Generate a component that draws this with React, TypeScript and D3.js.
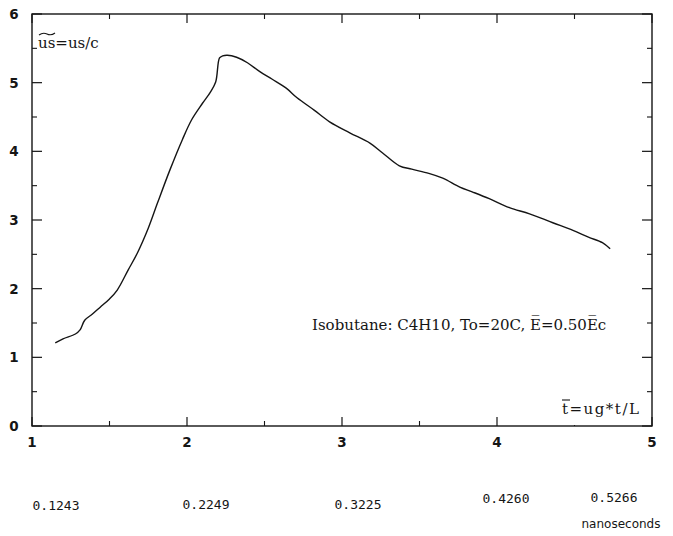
import React from "react";
import * as d3 from "d3";

// Reduced shock velocity vs reduced time
const tBar: number[] = [1.15, 1.2, 1.28, 1.31, 1.34, 1.39, 1.44, 1.5, 1.55, 1.62, 1.68, 1.75, 1.81, 1.89, 1.97, 2.03, 2.1, 2.15, 2.185, 2.21, 2.23, 2.26, 2.32, 2.39, 2.47, 2.55, 2.64, 2.71, 2.82, 2.92, 3.05, 3.18, 3.26, 3.37, 3.45, 3.56, 3.65, 3.76, 3.84, 3.95, 4.08, 4.21, 4.36, 4.49, 4.59, 4.68, 4.73];
const usBar: number[] = [1.21, 1.27, 1.34, 1.4, 1.54, 1.63, 1.73, 1.85, 1.98, 2.27, 2.52, 2.88, 3.25, 3.73, 4.17, 4.46, 4.7, 4.86, 5.01, 5.36, 5.39, 5.4, 5.37, 5.29, 5.16, 5.05, 4.92, 4.78, 4.6, 4.43, 4.27, 4.12, 3.98, 3.79, 3.74, 3.68, 3.61, 3.48, 3.41, 3.31, 3.18, 3.09, 2.96, 2.85, 2.75, 2.67, 2.58];

const xTicks: number[] = [1, 2, 3, 4, 5];
const yTicks: number[] = [0, 1, 2, 3, 4, 5, 6];
const nsLabels: string[] = ["0.1243", "0.2249", "0.3225", "0.4260", "0.5266"];

const W = 673;
const H = 536;
const left = 32;
const right = 652;
const top = 14;
const bottom = 426;

export default function App() {
  const x = d3.scaleLinear().domain([1, 5]).range([left, right]);
  const y = d3.scaleLinear().domain([0, 6]).range([bottom, top]);

  const pts: [number, number][] = tBar.map((t, i) => [t, usBar[i]]);
  const line = d3
    .line<[number, number]>()
    .x((d) => x(d[0]))
    .y((d) => y(d[1]))
    .curve(d3.curveCatmullRom.alpha(0.5));

  const xMinor = d3.range(1.5, 5, 1);
  const yMinor = d3.range(0.5, 6, 1);
  const ink = "#151515";
  const sans = "'DejaVu Sans', sans-serif";
  const serif = "'DejaVu Serif', serif";

  // per-label placement of the nanosecond row
  const nsX = [56, 206, 358, 506, 614];
  const nsY = [510, 509, 509, 503, 502];

  return (
    <svg
      width={W}
      height={H}
      style={{ position: "absolute", left: 0, top: 0, background: "#fff" }}
    >
      <rect x={0} y={0} width={W} height={H} fill="#fff" />
      {/* frame */}
      <rect
        x={left}
        y={top}
        width={right - left}
        height={bottom - top}
        fill="none"
        stroke={ink}
        strokeWidth={1.4}
      />
      {/* x ticks, bottom and top, pointing inward */}
      {xTicks.map((v) => (
        <g key={"xt" + v}>
          <line x1={x(v)} x2={x(v)} y1={bottom} y2={bottom - 9} stroke={ink} strokeWidth={1.2} />
          <line x1={x(v)} x2={x(v)} y1={top} y2={top + 9} stroke={ink} strokeWidth={1.2} />
          <text x={x(v)} y={447} textAnchor="middle" fontFamily={sans} fontWeight="bold" fontSize={13.5} fill={ink}>
            {v}
          </text>
        </g>
      ))}
      {xMinor.map((v) => (
        <g key={"xm" + v}>
          <line x1={x(v)} x2={x(v)} y1={bottom} y2={bottom - 5} stroke={ink} strokeWidth={1.1} />
          <line x1={x(v)} x2={x(v)} y1={top} y2={top + 5} stroke={ink} strokeWidth={1.1} />
        </g>
      ))}
      {/* y ticks, left and right */}
      {yTicks.map((v) => (
        <g key={"yt" + v}>
          <line x1={left} x2={left + 10} y1={y(v)} y2={y(v)} stroke={ink} strokeWidth={1.2} />
          <line x1={right} x2={right - 10} y1={y(v)} y2={y(v)} stroke={ink} strokeWidth={1.2} />
          <text x={14} y={y(v) + 5} textAnchor="middle" fontFamily={sans} fontWeight="bold" fontSize={13.5} fill={ink}>
            {v}
          </text>
        </g>
      ))}
      {yMinor.map((v) => (
        <g key={"ym" + v}>
          <line x1={left} x2={left + 5} y1={y(v)} y2={y(v)} stroke={ink} strokeWidth={1.1} />
          <line x1={right} x2={right - 5} y1={y(v)} y2={y(v)} stroke={ink} strokeWidth={1.1} />
        </g>
      ))}

      {/* curve */}
      <path d={line(pts) ?? ""} fill="none" stroke={ink} strokeWidth={1.4} strokeLinejoin="round" />

      {/* y title */}
      <text x={38} y={48} fontFamily={serif} fontSize={15} fill={ink}>
        us=us/c
      </text>
      <path d="M39,35 q4,-3 8,-1 q4,2 8,-1" fill="none" stroke={ink} strokeWidth={1.1} />

      {/* x title */}
      <rect x={558} y={397} width={93} height={28} fill="#fff" />
      <text x={562} y={414} fontFamily={serif} fontSize={15} letterSpacing={1.5} fill={ink}>
        t=ug*t/L
      </text>
      <line x1={562} x2={570} y1={400} y2={400} stroke={ink} strokeWidth={1.1} />

      {/* annotation */}
      <text x={312} y={330} fontFamily={serif} fontSize={15} fill={ink}>
        {"Isobutane: C4H10, To=20C, E\u0305=0.50E\u0305c"}
      </text>

      {/* time in nanoseconds */}
      {nsLabels.map((s, i) => (
        <text
          key={s}
          x={nsX[i]}
          y={nsY[i]}
          textAnchor="middle"
          fontFamily="'DejaVu Sans Mono', monospace"
          fontSize={13}
          fill={ink}
        >
          {s}
        </text>
      ))}
      <text x={621} y={528} textAnchor="middle" fontFamily={sans} fontSize={12} fill={ink}>
        nanoseconds
      </text>
    </svg>
  );
}
